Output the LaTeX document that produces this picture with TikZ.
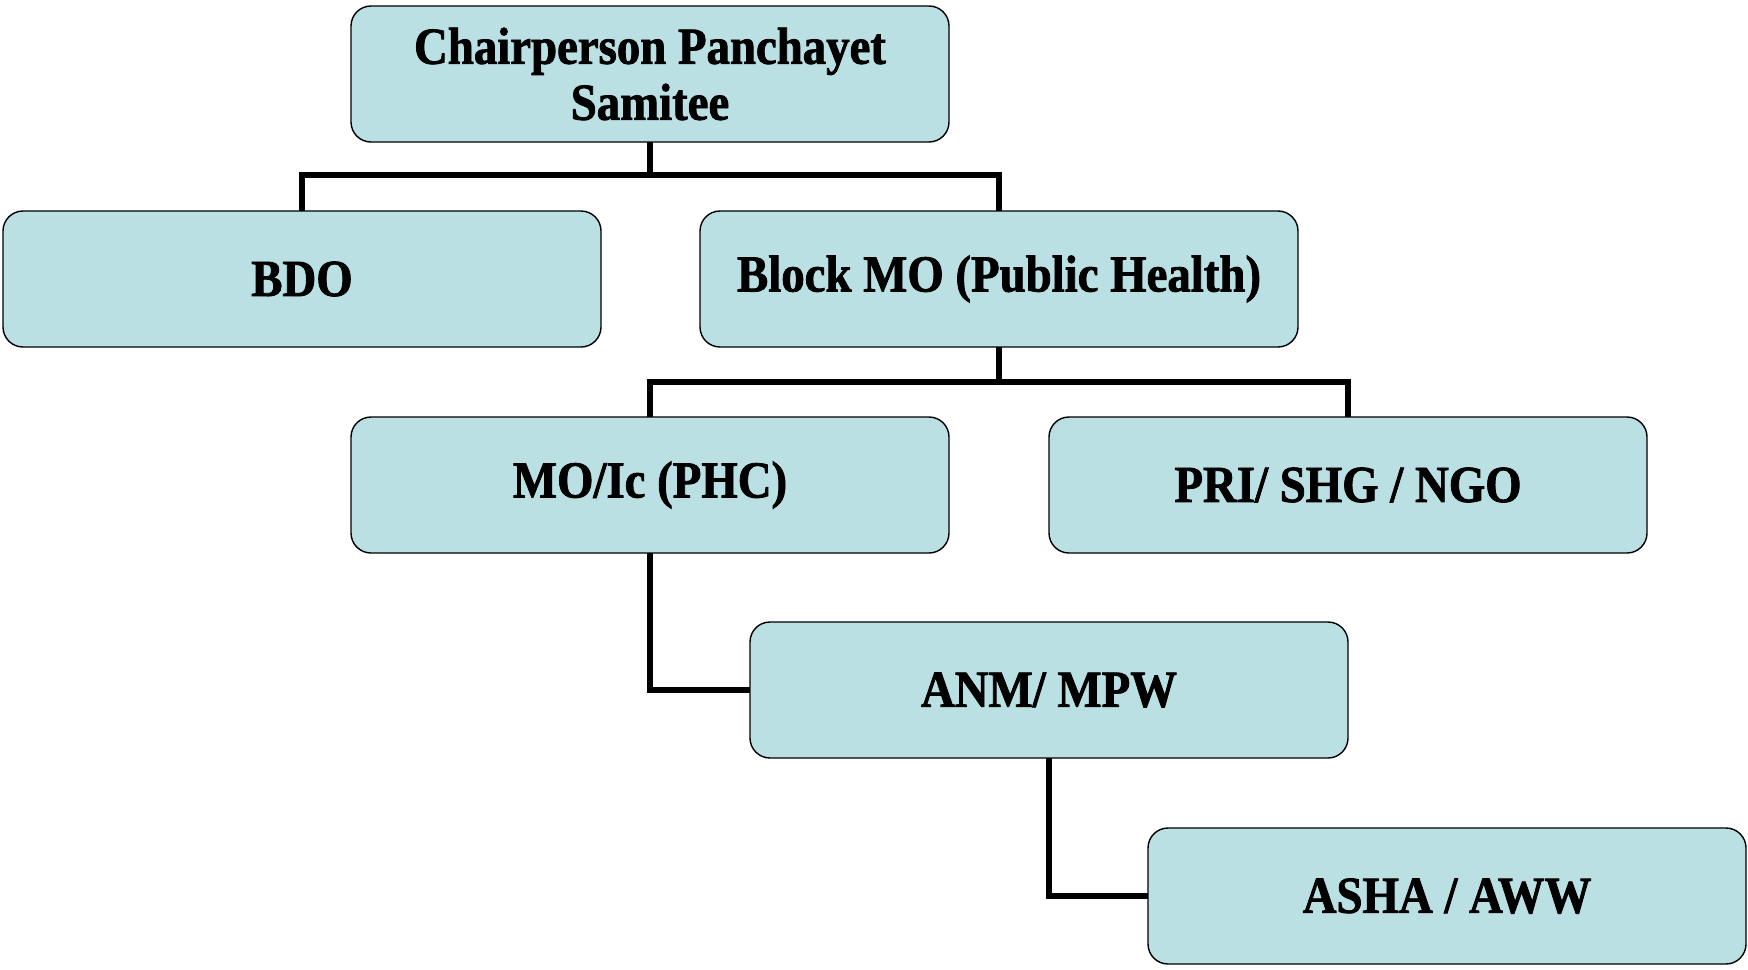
\documentclass[tikz,border=0pt]{standalone}
\usepackage{fontspec}
\setmainfont{Liberation Serif}[FakeStretch=0.9,FakeBold=1.5]
\definecolor{boxfill}{RGB}{186,224,227}
\begin{document}
\begin{tikzpicture}[x=0.5pt,y=-0.5pt,
  orgbox/.style={draw=black, line width=0.7pt, fill=boxfill, rounded corners=10pt,
    minimum width=299pt, minimum height=68pt, inner sep=0pt, outer sep=0pt,
    align=center, font=\fontsize{26}{28}\selectfont\bfseries},
  link/.style={line width=2.7pt, line join=miter}]
\useasboundingbox (0,0) rectangle (1748,969);
\node[orgbox] (chair) at (650,74) {Chairperson Panchayet\\Samitee};
\node[orgbox] (bdo) at (302,279) {BDO};
\node[orgbox] (bmo) at (999,279) {Block MO (Public Health)};
\node[orgbox] (moic) at (650,485) {MO/Ic (PHC)};
\node[orgbox] (pri) at (1348,485) {PRI/ SHG / NGO};
\node[orgbox] (anm) at (1049,690) {ANM/ MPW};
\node[orgbox] (asha) at (1447,896) {ASHA / AWW};
\coordinate (j1) at (650,175);
\coordinate (j2) at (999,382);
\draw[link] (chair.south) -- (j1);
\draw[link] (bdo.north) |- (j1) -| (bmo.north);
\draw[link] (bmo.south) -- (j2);
\draw[link] (moic.north) |- (j2) -| (pri.north);
\draw[link] (moic.south) |- (anm.west);
\draw[link] (anm.south) |- (asha.west);
\end{tikzpicture}
\end{document}
